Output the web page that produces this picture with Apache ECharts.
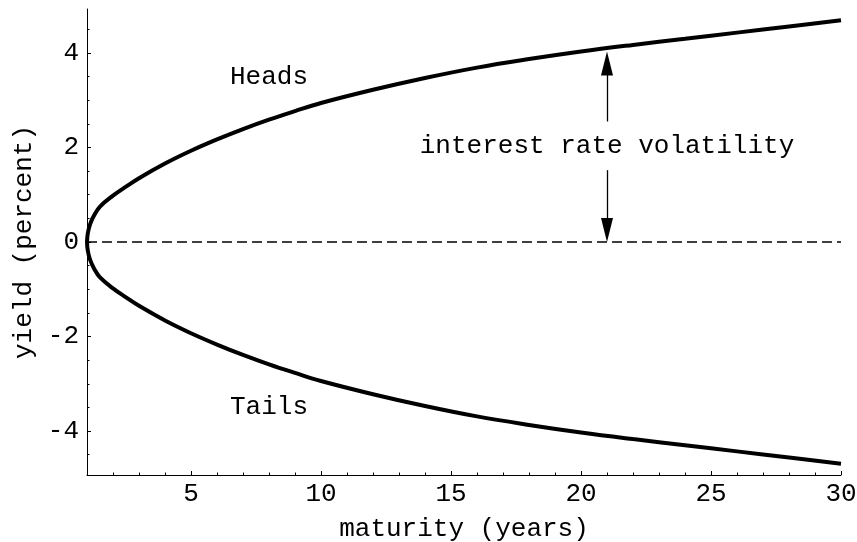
<!DOCTYPE html>
<html>
<head>
<meta charset="utf-8">
<script src="https://cdn.jsdelivr.net/npm/echarts@6/dist/echarts.min.js"></script>
<style>
  html, body { margin: 0; padding: 0; background: #fff; }
  #main { width: 857px; height: 542px; }
</style>
</head>
<body>
<div id="main"></div>
<script>
    // values
    var maturity   = [1, 1.03, 1.12, 1.28, 1.5, 2, 2.5, 3, 4, 5, 6, 7, 8, 9, 10, 12, 14, 16, 18, 20, 22, 24, 26, 28, 30];
    var headsYield = [0, 0.18, 0.38, 0.57, 0.75, 0.98, 1.17, 1.35, 1.66, 1.93, 2.17, 2.39, 2.59, 2.77, 2.94, 3.22, 3.47, 3.69, 3.87, 4.03, 4.17, 4.3, 4.43, 4.56, 4.69];
    var tailsYield = [0, -0.18, -0.38, -0.57, -0.75, -0.98, -1.17, -1.35, -1.66, -1.93, -2.17, -2.39, -2.59, -2.77, -2.94, -3.22, -3.47, -3.69, -3.87, -4.03, -4.17, -4.3, -4.43, -4.56, -4.69];
    var xTicks      = [5, 10, 15, 20, 25, 30];
    var xMinorTicks = [2, 3, 4, 6, 7, 8, 9, 11, 12, 13, 14, 16, 17, 18, 19, 21, 22, 23, 24, 26, 27, 28, 29];
    var yTicks      = [-4, -2, 0, 2, 4];
    var yMinorTicks = [-4.5, -3.5, -3, -2.5, -1.5, -1, -0.5, 0.5, 1, 1.5, 2.5, 3, 3.5, 4.5];
    var zeroLine    = [[1, 0], [30, 0]];
    // annotation: volatility arrow at maturity 21
    var volMaturity = 21;
    var volTop = 4.03;
    var volGapLow = 1.52, volGapHigh = 2.55;

    var font = "'Liberation Mono', 'Courier New', monospace";
    var fs = 26;

    function pairs(xs, ys) {
        return xs.map(function (x, i) { return [x, ys[i]]; });
    }

    var myChart = echarts.init(document.getElementById('main'));
    var baseX = { type: 'value', min: 1, max: 30, gridIndex: 0, splitLine: { show: false } };
    var baseY = { type: 'value', min: -4.93, max: 4.93, gridIndex: 0, splitLine: { show: false } };

    var option = {
        animation: false,
        backgroundColor: '#fff',
        grid: { left: 87, right: 16, top: 9, bottom: 67, containLabel: false, outerBoundsMode: 'none' },
        xAxis: [
            Object.assign({}, baseX, {
                position: 'bottom',
                name: 'maturity (years)',
                nameLocation: 'middle',
                nameGap: 41,
                nameTextStyle: { fontFamily: font, fontSize: fs, color: '#000' },
                axisLine: { onZero: false, lineStyle: { color: '#000', width: 1 } },
                axisTick: { inside: true, length: 4, customValues: xTicks, lineStyle: { color: '#000' } },
                axisLabel: { customValues: xTicks, margin: 6, fontFamily: font, fontSize: fs, color: '#000' }
            }),
            Object.assign({}, baseX, {
                position: 'bottom',
                axisLine: { show: false, onZero: false },
                axisTick: { inside: true, length: 2.5, customValues: xMinorTicks, lineStyle: { color: '#000' } },
                axisLabel: { show: false }
            })
        ],
        yAxis: [
            Object.assign({}, baseY, {
                position: 'left',
                name: 'yield (percent)',
                nameLocation: 'middle',
                nameGap: 48,
                nameTextStyle: { fontFamily: font, fontSize: fs, color: '#000' },
                axisLine: { onZero: false, lineStyle: { color: '#000', width: 1 } },
                axisTick: { inside: true, length: 4, customValues: yTicks, lineStyle: { color: '#000' } },
                axisLabel: { customValues: yTicks, margin: 8, fontFamily: font, fontSize: fs, color: '#000' }
            }),
            Object.assign({}, baseY, {
                position: 'left',
                axisLine: { show: false, onZero: false },
                axisTick: { inside: true, length: 2.5, customValues: yMinorTicks, lineStyle: { color: '#000' } },
                axisLabel: { show: false }
            })
        ],
        series: [
            {
                name: 'zero',
                type: 'line',
                data: zeroLine,
                symbol: 'none',
                silent: true,
                lineStyle: { color: '#000', width: 1.3, type: [10, 5] },
                markLine: {
                    silent: true,
                    symbol: ['none', 'none'],
                    label: { show: false },
                    lineStyle: { color: '#000', width: 1.3, type: 'solid' },
                    data: [
                        [{ coord: [volMaturity, volGapHigh] }, { coord: [volMaturity, volTop - 0.2] }],
                        [{ coord: [volMaturity, volGapLow] }, { coord: [volMaturity, 0.2] }]
                    ]
                },
                markPoint: {
                    silent: true,
                    label: { show: false },
                    itemStyle: { color: '#000' },
                    data: [
                        { coord: [volMaturity, volTop], symbol: 'triangle', symbolSize: [12, 24], symbolOffset: [0, 12] },
                        { coord: [volMaturity, 0], symbol: 'triangle', symbolRotate: 180, symbolSize: [12, 24], symbolOffset: [0, -12] },
                        { name: 'interest rate volatility', coord: [volMaturity, 2.03], symbol: 'circle', symbolSize: 0,
                          label: { show: true, position: 'inside', formatter: '{b}', fontFamily: font, fontSize: fs, color: '#000' } },
                        { name: 'Heads', coord: [8, 3.49], symbol: 'circle', symbolSize: 0,
                          label: { show: true, position: 'inside', formatter: '{b}', fontFamily: font, fontSize: fs, color: '#000' } },
                        { name: 'Tails', coord: [8, -3.49], symbol: 'circle', symbolSize: 0,
                          label: { show: true, position: 'inside', formatter: '{b}', fontFamily: font, fontSize: fs, color: '#000' } }
                    ]
                }
            },
            {
                name: 'Heads',
                type: 'line',
                data: pairs(maturity, headsYield),
                symbol: 'none',
                smooth: 0.4,
                clip: false,
                silent: true,
                lineStyle: { color: '#000', width: 4 }
            },
            {
                name: 'Tails',
                type: 'line',
                data: pairs(maturity, tailsYield),
                symbol: 'none',
                smooth: 0.4,
                clip: false,
                silent: true,
                lineStyle: { color: '#000', width: 4 }
            }
        ]
    };
    myChart.setOption(option);
</script>
</body>
</html>
